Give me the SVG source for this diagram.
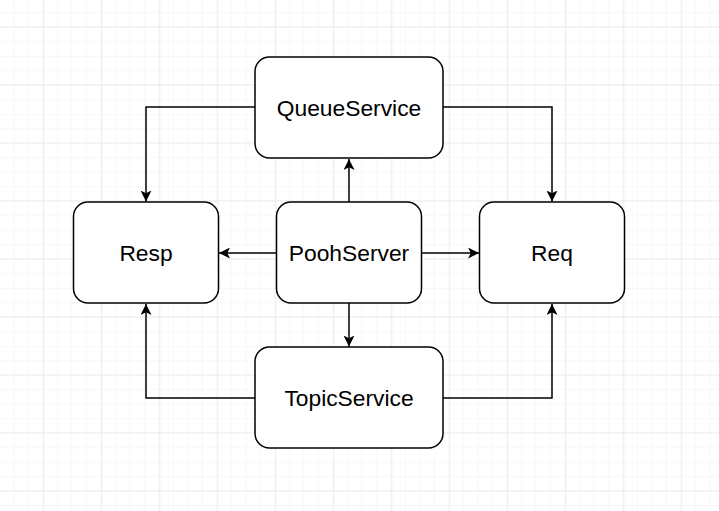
<svg xmlns="http://www.w3.org/2000/svg" width="719" height="511" viewBox="0 0 719 511">
<defs>
<pattern id="minor" x="-0.2" y="-1.2" width="14.5" height="14.5" patternUnits="userSpaceOnUse">
<path d="M14.5 0V14.5M0 14.5H14.5" fill="none" stroke="#f0f0f0" stroke-width="1"/>
</pattern>
<pattern id="major" x="-13.7" y="-30.7" width="58" height="58" patternUnits="userSpaceOnUse">
<path d="M58 0V58M0 58H58" fill="none" stroke="#dedede" stroke-width="1"/>
</pattern>
<marker id="arr" viewBox="0 0 10 10" refX="10" refY="5" markerWidth="11" markerHeight="11" markerUnits="userSpaceOnUse" orient="auto">
<path d="M0 0L10 5L0 10L2.5 5Z" fill="#000"/>
</marker>
</defs>
<style>
.node rect{fill:#fff;stroke:#000;stroke-width:1.5}
.node text{font-family:"Liberation Sans",Arial,sans-serif;font-size:22.8px;fill:#000;text-anchor:middle;dominant-baseline:central}
.edge{fill:none;stroke:#000;stroke-width:1.5;marker-end:url(#arr)}
</style>
<rect width="719" height="511" fill="#fff"/>
<rect width="719" height="511" fill="url(#minor)"/>
<rect width="719" height="511" fill="url(#major)"/>
<g id="connectors">
<path class="edge" d="M349 202V159"/>
<path class="edge" d="M276.5 253H219"/>
<path class="edge" d="M421.5 253H479"/>
<path class="edge" d="M349 303V346.5"/>
<path class="edge" d="M255 107H146V201.5"/>
<path class="edge" d="M443 107H552V201.5"/>
<path class="edge" d="M255 398H146V304"/>
<path class="edge" d="M443 398H552V304"/>
</g>
<g id="QueueService" class="node">
<rect x="255" y="57" width="188" height="101" rx="14.5"/>
<text x="349" y="107.5">QueueService</text>
</g>
<g id="Resp" class="node">
<rect x="73.5" y="202" width="145" height="101" rx="14.5"/>
<text x="146" y="252.5">Resp</text>
</g>
<g id="PoohServer" class="node">
<rect x="276.5" y="202" width="145" height="101" rx="14.5"/>
<text x="349" y="252.5">PoohServer</text>
</g>
<g id="Req" class="node">
<rect x="479.5" y="202" width="145" height="101" rx="14.5"/>
<text x="552" y="252.5">Req</text>
</g>
<g id="TopicService" class="node">
<rect x="255" y="347" width="188" height="101" rx="14.5"/>
<text x="349" y="397.5">TopicService</text>
</g>
</svg>
